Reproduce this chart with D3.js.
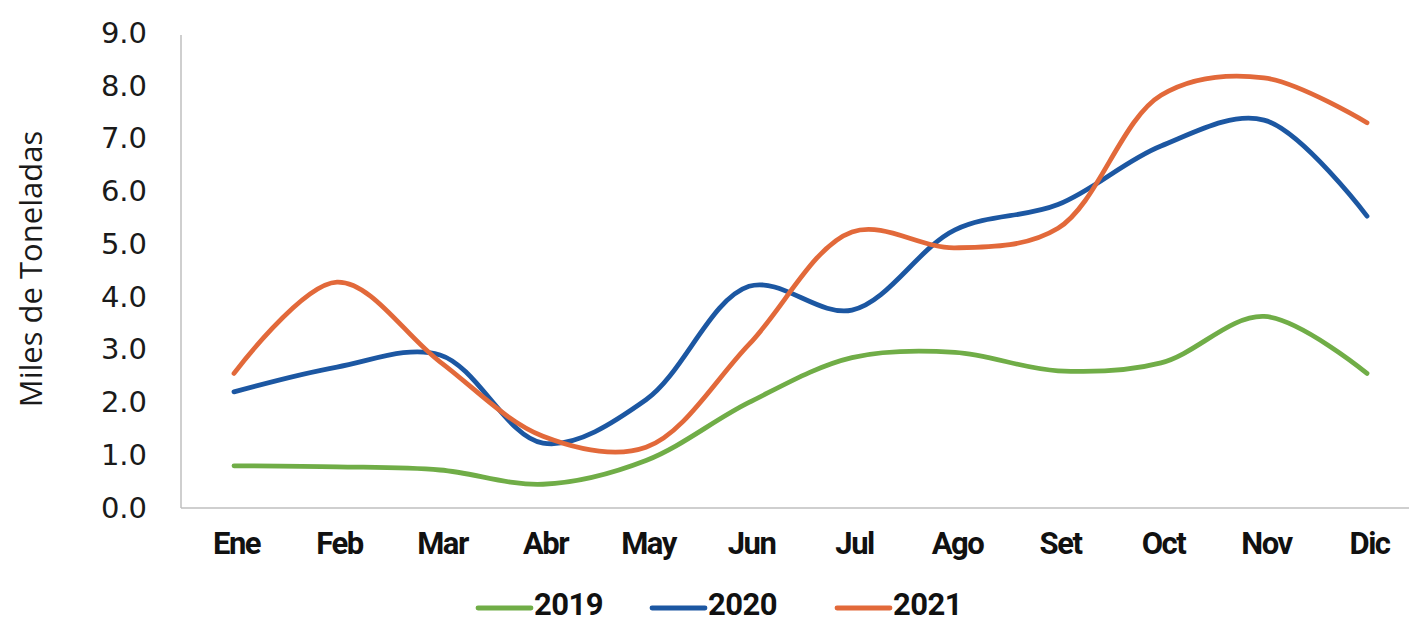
<!DOCTYPE html>
<html>
<head>
<meta charset="utf-8">
<script src="https://cdn.jsdelivr.net/npm/d3@7"></script>
<style>
	body { margin: 0; background: #fff; }
	svg { display: block; }
</style>
</head>
<body>
<div id="chart"></div>
<script>
	'use strict';

	var months = ['Ene', 'Feb', 'Mar', 'Abr', 'May', 'Jun', 'Jul', 'Ago', 'Set', 'Oct', 'Nov', 'Dic'];
	var years = ['2019', '2020', '2021'];
	var values2019 = [0.8, 0.78, 0.72, 0.45, 0.9, 2.0, 2.85, 2.95, 2.6, 2.75, 3.63, 2.55];
	var values2020 = [2.2, 2.67, 2.9, 1.23, 2.05, 4.2, 3.75, 5.27, 5.75, 6.86, 7.35, 5.53];
	var values2021 = [2.55, 4.28, 2.77, 1.36, 1.15, 3.1, 5.23, 4.93, 5.3, 7.82, 8.15, 7.3];
	var yTicks = [0, 1, 2, 3, 4, 5, 6, 7, 8, 9];
	var colors = ['#70AD47', '#1C57A2', '#E2693A'];

	var width = 1409, height = 623;
	var series = [values2019, values2020, values2021];

	var svg = d3.select('#chart').append('svg')
		.attr('width', width)
		.attr('height', height);

	var x = d3.scalePoint()
		.domain(months)
		.range([234, 1367]);

	var y = d3.scaleLinear()
		.domain([0, 9])
		.range([508, 33]);

	// axis lines
	svg.append('line')
		.attr('x1', 181).attr('x2', 181)
		.attr('y1', 35).attr('y2', y(0))
		.attr('stroke', '#BFBFBF').attr('stroke-width', 1.5);
	svg.append('line')
		.attr('x1', 181).attr('x2', width)
		.attr('y1', y(0)).attr('y2', y(0))
		.attr('stroke', '#BFBFBF').attr('stroke-width', 1.5);

	// y ticks
	var yAxis = d3.axisLeft(y)
		.tickValues(yTicks)
		.tickFormat(d3.format('.1f'))
		.tickSize(0)
		.tickPadding(0);
	var gy = svg.append('g')
		.attr('transform', 'translate(147,0)')
		.call(yAxis);
	gy.select('.domain').remove();
	gy.selectAll('text')
		.attr('font-family', 'DejaVu Sans')
		.attr('font-size', 29)
		.attr('fill', '#1a1a1a');

	// x ticks
	var xAxis = d3.axisBottom(x).tickSize(0).tickPadding(0);
	var gx = svg.append('g')
		.attr('transform', 'translate(2,532)')
		.call(xAxis);
	gx.select('.domain').remove();
	gx.selectAll('text')
		.attr('font-family', 'Roboto')
		.attr('font-weight', 'bold')
		.attr('font-size', 31)
		.attr('letter-spacing', -1.5)
		.attr('fill', '#111');

	// y title
	svg.append('text')
		.attr('transform', 'translate(42,269) rotate(-90)')
		.attr('text-anchor', 'middle')
		.attr('font-family', 'Open Sans')
		.attr('font-size', 31)
		.attr('fill', '#1a1a1a')
		.text('Miles de Toneladas');

	// lines
	var line = d3.line()
		.x(function (d, i) { return x(months[i]); })
		.y(function (d) { return y(d); })
		.curve(d3.curveCatmullRom.alpha(0.5));

	svg.selectAll('.series')
		.data(series)
		.enter().append('path')
		.attr('class', 'series')
		.attr('d', line)
		.attr('fill', 'none')
		.attr('stroke', function (d, i) { return colors[i]; })
		.attr('stroke-width', 4.8)
		.attr('stroke-linecap', 'round')
		.attr('stroke-linejoin', 'round');

	// legend
	var legendX = [478, 652, 837];
	var legend = svg.selectAll('.legend')
		.data(years)
		.enter().append('g')
		.attr('class', 'legend')
		.attr('transform', function (d, i) { return 'translate(' + legendX[i] + ',608)'; });
	legend.append('line')
		.attr('x1', 0).attr('x2', 53)
		.attr('stroke', function (d, i) { return colors[i]; })
		.attr('stroke-width', 4.8)
		.attr('stroke-linecap', 'round');
	legend.append('text')
		.attr('x', 56)
		.attr('y', 7)
		.attr('font-family', 'Roboto')
		.attr('font-weight', 'bold')
		.attr('font-size', 31)
		.attr('letter-spacing', -0.5)
		.attr('fill', '#111')
		.text(function (d) { return d; });
</script>
</body>
</html>
